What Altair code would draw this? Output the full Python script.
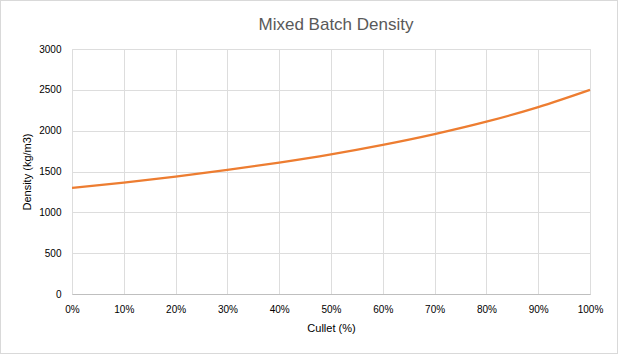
import altair as alt
import pandas as pd

cullet = [0.0, 0.1, 0.2, 0.3, 0.4, 0.5, 0.6, 0.7, 0.8, 0.9, 1.0]
density = [1300, 1365, 1438, 1519, 1609, 1710, 1826, 1958, 2110, 2289, 2500]
x_ticks = [0.0, 0.1, 0.2, 0.3, 0.4, 0.5, 0.6, 0.7, 0.8, 0.9, 1.0]
y_ticks = [0, 500, 1000, 1500, 2000, 2500, 3000]
chart_title = "Mixed Batch Density"

df = pd.DataFrame({"cullet": cullet, "density": density})

TXT = "#595959"
GRID = "#d9d9d9"
FONT = "Liberation Sans"

line = alt.Chart(df).mark_line(
    color="#ED7D31", strokeWidth=2.25, interpolate="monotone"
).encode(
    x=alt.X("cullet:Q",
            scale=alt.Scale(domain=[0, 1], nice=False),
            axis=alt.Axis(values=x_ticks, format=".0%", title="Cullet (%)",
                          ticks=False, labelPadding=10, titlePadding=8,
                          labelFlush=False, titleFontWeight=400,
                          domainColor="#bfbfbf", grid=True)),
    y=alt.Y("density:Q",
            scale=alt.Scale(domain=[0, 3000], nice=False),
            axis=alt.Axis(values=y_ticks, format="d", title="Density (kg/m3)",
                          ticks=False, labelPadding=11, titlePadding=6,
                          labelFlush=False, titleFontWeight=400,
                          domain=False, grid=True)),
)

border = alt.Chart(df).mark_rect(
    fill=None, stroke=GRID, strokeWidth=1
).encode(
    x=alt.value(-71.5), x2=alt.value(545.5),
    y=alt.value(-48.5), y2=alt.value(304.5),
)

title = alt.Chart(pd.DataFrame({"t": [chart_title]})).mark_text(
    font=FONT, fontSize=17, color=TXT, align="center", baseline="middle"
).encode(
    text="t:N", x=alt.value(264), y=alt.value(-24),
)

chart = alt.layer(border, line, title).properties(
    width=518, height=245,
    padding={"left": 72, "top": 49, "right": 29, "bottom": 61},
    autosize=alt.AutoSizeParams(type="none"),
).configure_view(
    stroke=None
).configure_axis(
    labelFont=FONT, titleFont=FONT, labelFontSize=12, titleFontSize=12,
    labelColor=TXT, titleColor=TXT,
    gridColor=GRID, gridWidth=1,
).configure(background="white")

chart.save("out.html", embed_options={"renderer": "svg", "actions": False})
